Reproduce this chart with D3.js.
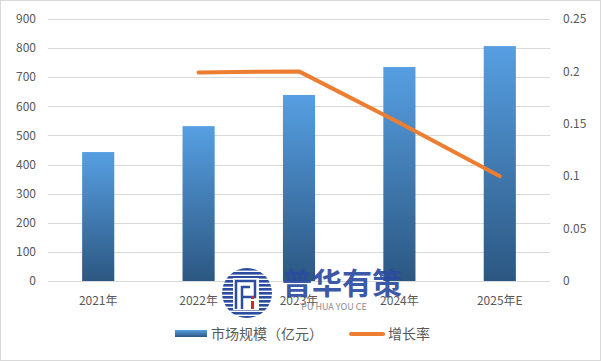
<!DOCTYPE html>
<html lang="zh">
<head>
<meta charset="utf-8">
<script src="https://cdn.jsdelivr.net/npm/d3@7"></script>
<style>
  body { margin: 0; background: #fff; }
  text { font-family: "Noto Sans CJK SC", "Microsoft YaHei", sans-serif; }
</style>
</head>
<body>
<svg id="chart" width="601" height="361"></svg>
<script>
// data
var years = ["2021年", "2022年", "2023年", "2024年", "2025年E"];
var marketSize = [443, 532, 639, 735, 807];
var growth = [null, 0.199, 0.2, 0.151, 0.1];
var leftTicks = [0, 100, 200, 300, 400, 500, 600, 700, 800, 900];
var rightTicks = [0, 0.05, 0.1, 0.15, 0.2, 0.25];

var svg = d3.select("#chart");
var W = 601, H = 361;
var plot = { left: 48, right: 550, top: 19, bottom: 281 };

// border
svg.append("rect")
  .attr("x", 0.5).attr("y", 0.5)
  .attr("width", W - 1).attr("height", H - 1)
  .attr("fill", "#fff").attr("stroke", "#d9d9d9");

var x = d3.scaleBand().domain(years).range([plot.left, plot.right]).paddingInner(0.68).paddingOuter(0.34);
var yL = d3.scaleLinear().domain([0, 900]).range([plot.bottom, plot.top]);
var yR = d3.scaleLinear().domain([0, 0.25]).range([plot.bottom, plot.top]);

var defs = svg.append("defs");
var grad = defs.append("linearGradient").attr("id", "barGrad")
  .attr("x1", 0).attr("y1", 0).attr("x2", 0).attr("y2", 1);
grad.append("stop").attr("offset", "0%").attr("stop-color", "#569fe2");
grad.append("stop").attr("offset", "100%").attr("stop-color", "#2c5782");

// gridlines
svg.append("g").selectAll("line").data(leftTicks).enter().append("line")
  .attr("x1", plot.left).attr("x2", plot.right)
  .attr("y1", function(d) { return Math.round(yL(d)) + 0.5; })
  .attr("y2", function(d) { return Math.round(yL(d)) + 0.5; })
  .attr("stroke", "#d9d9d9").attr("stroke-width", 1);

// left axis labels
svg.append("g").selectAll("text").data(leftTicks).enter().append("text")
  .attr("x", 36).attr("y", function(d) { return yL(d); })
  .attr("dy", "0.35em").attr("text-anchor", "end")
  .attr("font-size", 12).attr("fill", "#595959")
  .text(function(d) { return d; });

// right axis labels
svg.append("g").selectAll("text").data(rightTicks).enter().append("text")
  .attr("x", 563).attr("y", function(d) { return yR(d); })
  .attr("dy", "0.35em").attr("text-anchor", "start")
  .attr("font-size", 12).attr("fill", "#595959")
  .text(function(d) { return d; });

// bars
svg.append("g").selectAll("rect").data(marketSize).enter().append("rect")
  .attr("x", function(d, i) { return x(years[i]); })
  .attr("width", x.bandwidth())
  .attr("y", function(d) { return yL(d); })
  .attr("height", function(d) { return yL(0) - yL(d); })
  .attr("fill", "url(#barGrad)");

// x labels
svg.append("g").selectAll("text").data(years).enter().append("text")
  .attr("x", function(d) { return x(d) + x.bandwidth() / 2; })
  .attr("y", 301).attr("dy", "0.35em").attr("text-anchor", "middle")
  .attr("font-size", 12).attr("fill", "#595959")
  .text(function(d) { return d; });

// growth line
var line = d3.line()
  .defined(function(d) { return d != null; })
  .x(function(d, i) { return x(years[i]) + x.bandwidth() / 2; })
  .y(function(d) { return yR(d); });
svg.append("path").datum(growth)
  .attr("d", line)
  .attr("fill", "none").attr("stroke", "#ed7d31")
  .attr("stroke-width", 4).attr("stroke-linejoin", "round").attr("stroke-linecap", "round");

// watermark logo
var logo = svg.append("g").attr("transform", "translate(247,293)");
defs.append("clipPath").attr("id", "logoClip").append("circle").attr("r", 25);
var stripes = logo.append("g").attr("clip-path", "url(#logoClip)");
d3.range(-25, 26, 4).forEach(function(yy) {
  stripes.append("rect").attr("x", -26).attr("y", yy).attr("width", 52).attr("height", 2.6).attr("fill", "#2b4c9f");
});
logo.append("rect").attr("x", -14).attr("y", -15).attr("width", 26).attr("height", 32).attr("fill", "#fff");
logo.append("path")
  .attr("d", "M-11,16 V-12 H8 V4 H-4 M-5,16 V-6 H3")
  .attr("fill", "none").attr("stroke", "#2b4c9f").attr("stroke-width", 2.5);
logo.append("rect").attr("x", 4).attr("y", 8).attr("width", 3).attr("height", 8).attr("fill", "#d9262b");
logo.append("rect").attr("x", 4).attr("y", 3).attr("width", 3).attr("height", 3).attr("fill", "#d9262b");

svg.append("text")
  .attr("x", 282).attr("y", 294)
  .attr("font-size", 30).attr("font-weight", "bold").attr("fill", "#2b4c9f")
  .attr("opacity", 0.92)
  .text("普华有策");
svg.append("text")
  .attr("x", 334).attr("y", 310).attr("text-anchor", "middle")
  .attr("font-size", 9).attr("fill", "#8c8c8c")
  .attr("font-family", "Roboto, sans-serif")
  .text("PU HUA YOU CE");

// legend
var lg = svg.append("g");
lg.append("rect").attr("x", 175).attr("y", 330).attr("width", 32).attr("height", 7).attr("fill", "url(#barGrad)");
lg.append("text").attr("x", 211).attr("y", 334).attr("dy", "0.35em")
  .attr("font-size", 14).attr("fill", "#595959").text("市场规模（亿元）");
lg.append("line").attr("x1", 351).attr("x2", 383).attr("y1", 334).attr("y2", 334)
  .attr("stroke", "#ed7d31").attr("stroke-width", 4).attr("stroke-linecap", "round");
lg.append("text").attr("x", 388).attr("y", 334).attr("dy", "0.35em")
  .attr("font-size", 14).attr("fill", "#595959").text("增长率");
</script>
</body>
</html>
